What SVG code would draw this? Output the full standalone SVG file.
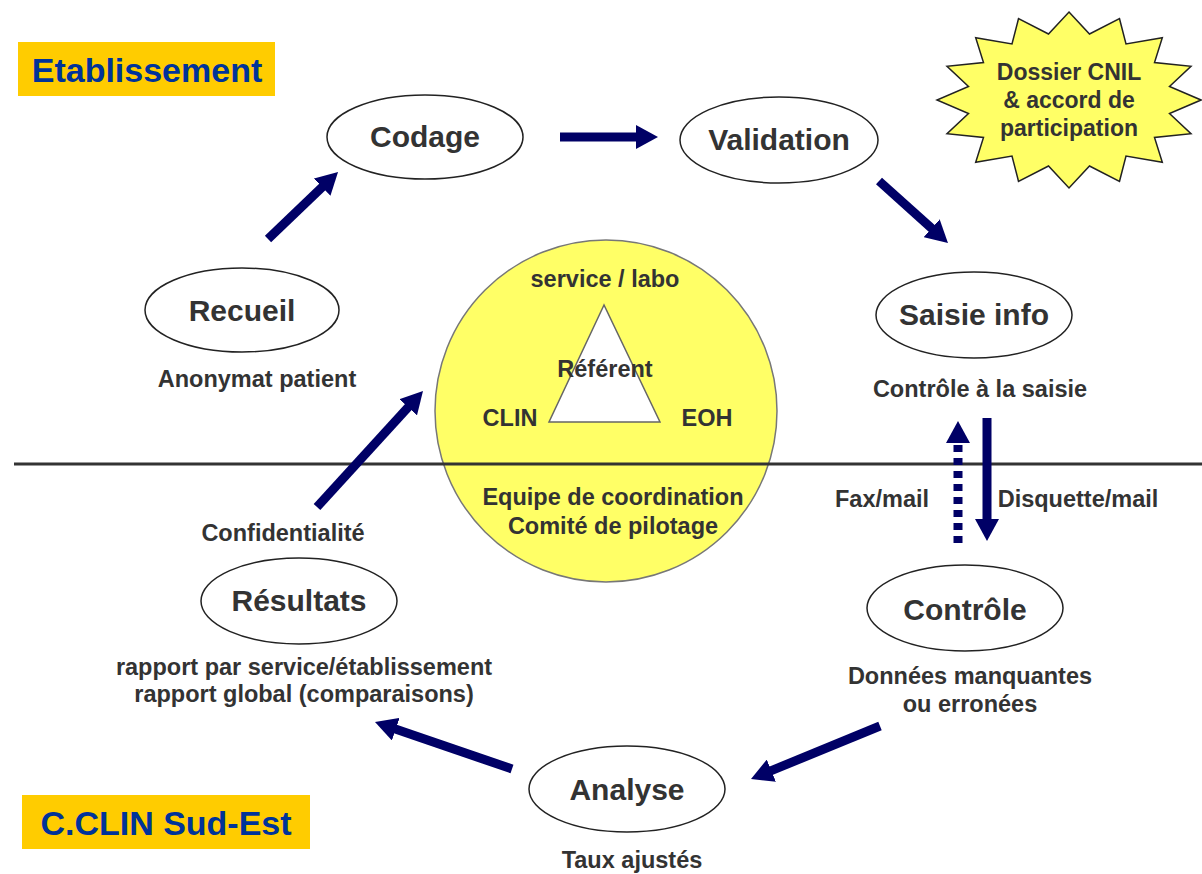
<svg xmlns="http://www.w3.org/2000/svg" width="1202" height="874" viewBox="0 0 1202 874">
<style>
text{font-family:"Liberation Sans",Arial,sans-serif;font-weight:bold;fill:#333333;text-anchor:middle}
.node{fill:#ffffff;stroke:#222222;stroke-width:1.5}
.lbl{font-size:30px}
.sub{font-size:23.5px}
.tag{fill:#ffcc00}
.tagt{fill:#003399;font-size:34px}
.arr{stroke:#000066;stroke-width:9;fill:none;stroke-linecap:butt}
</style>
<defs>
<marker id="ah" viewBox="0 0 22 24" markerWidth="22" markerHeight="24" refX="2" refY="12" orient="auto" markerUnits="userSpaceOnUse">
<path d="M0,0 L22,12 L0,24 z" fill="#000066"/>
</marker>
</defs>
<rect width="1202" height="874" fill="#ffffff"/>

<g id="etablissement">
<rect class="tag" x="18" y="42" width="257" height="54"/>
<text class="tagt" x="147" y="82">Etablissement</text>
</g>
<g id="cclin">
<rect class="tag" x="22" y="795" width="288" height="54"/>
<text class="tagt" x="166" y="835">C.CLIN Sud-Est</text>
</g>

<g id="centre">
<circle cx="606" cy="411" r="171" fill="#ffff66" stroke="#777777" stroke-width="1.5"/>
<polygon points="604,305 549,422 660,422" fill="#ffffff" stroke="#666666" stroke-width="1.5"/>
<text class="sub" x="605" y="287">service / labo</text>
<text class="sub" x="605" y="377">Référent</text>
<text class="sub" x="510" y="426">CLIN</text>
<text class="sub" x="707" y="426">EOH</text>
<text class="sub" x="613" y="505">Equipe de coordination</text>
<text class="sub" x="613" y="534">Comité de pilotage</text>
</g>

<g id="separator">
<line x1="14" y1="464" x2="1202" y2="464" stroke="#333333" stroke-width="3"/>
</g>

<g id="cnil">
<polygon points="1069,12 1089.5,34 1119.5,18.7 1126,44 1162.3,37.8 1154.5,62.5 1191,66.3 1169.5,86.5 1201,100 1169.5,113.5 1191,133.7 1154.5,137.5 1162.3,162.2 1126,156 1119.5,181.3 1089.5,166 1069,188 1048.5,166 1018.5,181.3 1012,156 975.7,162.2 983.5,137.5 947,133.7 968.5,113.5 937,100 968.5,86.5 947,66.3 983.5,62.5 975.7,37.8 1012,44 1018.5,18.7 1048.5,34" fill="#ffff66" stroke="#222222" stroke-width="1.5"/>
<text class="sub" x="1069" y="80" style="font-size:23px">Dossier CNIL</text>
<text class="sub" x="1069" y="108" style="font-size:23px">&amp; accord de</text>
<text class="sub" x="1069" y="136" style="font-size:23px">participation</text>
</g>

<g id="codage">
<ellipse class="node" cx="425" cy="137" rx="98" ry="42"/>
<text class="lbl" x="425" y="147">Codage</text>
</g>
<g id="validation">
<ellipse class="node" cx="779" cy="140" rx="99" ry="43"/>
<text class="lbl" x="779" y="150">Validation</text>
</g>
<g id="saisie">
<ellipse class="node" cx="974" cy="315" rx="98" ry="43"/>
<text class="lbl" x="974" y="325">Saisie info</text>
<text class="sub" x="980" y="397">Contrôle à la saisie</text>
</g>
<g id="recueil">
<ellipse class="node" cx="242" cy="310" rx="97" ry="42"/>
<text class="lbl" x="242" y="321">Recueil</text>
<text class="sub" x="257" y="387">Anonymat patient</text>
</g>
<g id="resultats">
<ellipse class="node" cx="299" cy="601" rx="98" ry="43"/>
<text class="lbl" x="299" y="611">Résultats</text>
<text class="sub" x="304" y="675">rapport par service/établissement</text>
<text class="sub" x="304" y="702">rapport global (comparaisons)</text>
</g>
<g id="controle">
<ellipse class="node" cx="965" cy="608" rx="98" ry="43"/>
<text class="lbl" x="965" y="620">Contrôle</text>
<text class="sub" x="970" y="684">Données manquantes</text>
<text class="sub" x="970" y="712">ou erronées</text>
</g>
<g id="analyse">
<ellipse class="node" cx="627" cy="789" rx="98" ry="43"/>
<text class="lbl" x="627" y="800">Analyse</text>
<text class="sub" x="632" y="868">Taux ajustés</text>
</g>

<g id="connectors">
<line class="arr" x1="268" y1="239" x2="323.6" y2="185.8" marker-end="url(#ah)"/>
<line class="arr" x1="560" y1="137" x2="638" y2="137" marker-end="url(#ah)"/>
<line class="arr" x1="879" y1="181" x2="933.1" y2="229.6" marker-end="url(#ah)"/>
<line class="arr" x1="987" y1="418" x2="987" y2="521" marker-end="url(#ah)"/>
<line class="arr" x1="958" y1="543" x2="958" y2="441" stroke-dasharray="7 6" marker-end="url(#ah)"/>
<line class="arr" x1="880" y1="726" x2="769.5" y2="771.4" marker-end="url(#ah)"/>
<line class="arr" x1="512" y1="769" x2="393.9" y2="728.5" marker-end="url(#ah)"/>
<line class="arr" x1="317" y1="507" x2="409.5" y2="405.8" marker-end="url(#ah)"/>
<text class="sub" x="882" y="507">Fax/mail</text>
<text class="sub" x="1078" y="507">Disquette/mail</text>
<text class="sub" x="283" y="541">Confidentialité</text>
</g>
</svg>
